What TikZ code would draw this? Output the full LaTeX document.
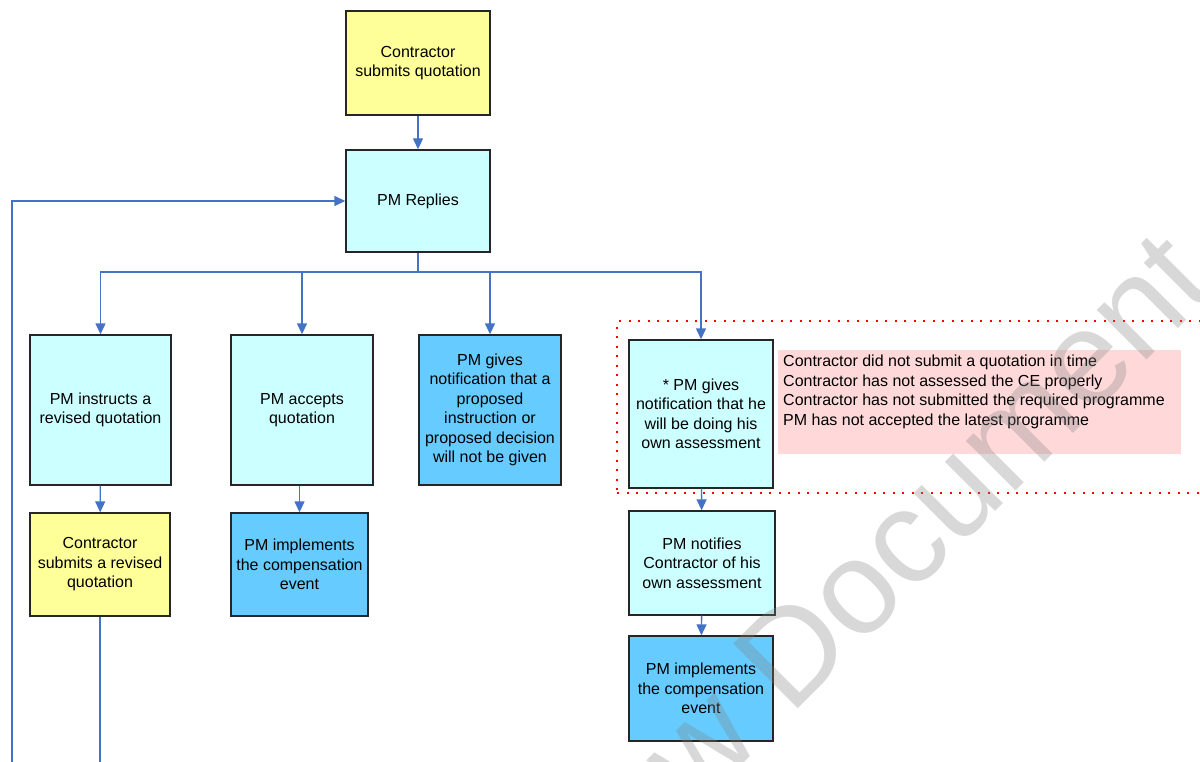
\documentclass[tikz,border=0pt]{standalone}
\usepackage{fontspec}
\setmainfont{Liberation Sans}
\usetikzlibrary{arrows.meta}
\definecolor{cYel}{HTML}{FFFF99}
\definecolor{cCyan}{HTML}{CCFFFF}
\definecolor{cBlue}{HTML}{66CCFF}
\definecolor{cPink}{HTML}{FFD9D9}
\definecolor{cConn}{HTML}{4472C4}
\definecolor{cEdge}{HTML}{262626}
\tikzset{
  bx/.style={draw=cEdge, line width=1.4pt, align=center, inner sep=2pt,
    font=\fontsize{16}{19.5}\selectfont},
  ln/.style={draw=cConn, line width=1.4pt},
  arr/.style={ln, -{Triangle[length=11pt,width=10pt]}},
}
\begin{document}
\begin{tikzpicture}[x=1pt,y=-1pt]
\useasboundingbox (0,0) rectangle (1200,762);
\clip (0,0) rectangle (1200,762);
\fill[white] (0,0) rectangle (1200,762);

% red dotted group
\node[draw=red, line width=2.2pt, dash pattern=on 2pt off 7.5pt,
      minimum width=600pt, minimum height=172pt, inner sep=0pt] (grp) at (917,407) {};

\node[bx, fill=cYel, minimum width=144pt, minimum height=104pt] (top) at (418,63) {Contractor\\submits quotation};
\node[bx, fill=cCyan, minimum width=144pt, minimum height=102pt] (replies) at (418,201) {PM Replies};

\node[bx, fill=cCyan, minimum width=141pt, minimum height=150pt] (b1) at (100.5,410) {PM instructs a\\revised quotation};
\node[bx, fill=cCyan, minimum width=142pt, minimum height=150pt] (b2) at (302,410) {PM accepts\\quotation};
\node[bx, fill=cBlue, minimum width=142pt, minimum height=150pt] (b3) at (490,410) {PM gives\\notification that a\\proposed\\instruction or\\proposed decision\\will not be given};
\node[bx, fill=cCyan, minimum width=144pt, minimum height=148pt] (b4) at (701,414) {* PM gives\\notification that he\\will be doing his\\own assessment};

\node[fill=cPink, minimum width=403pt, minimum height=104pt, inner sep=0pt] (pink) at (979.5,402) {};
\node[anchor=north west, align=left, inner sep=0pt, font=\fontsize{16}{19.5}\selectfont] (reasons) at (783,355)
  {Contractor did not submit a quotation in time\\Contractor has not assessed the CE properly\\Contractor has not submitted the required programme\\PM has not accepted the latest programme};

\node[bx, fill=cYel, minimum width=140pt, minimum height=103pt] (c1) at (100,564.5) {Contractor\\submits a revised\\quotation};
\node[bx, fill=cBlue, minimum width=137pt, minimum height=103pt] (c2) at (299.5,564.5) {PM implements\\the compensation\\event};
\node[bx, fill=cCyan, minimum width=146pt, minimum height=104pt] (d1) at (702,563) {PM notifies\\Contractor of his\\own assessment};
\node[bx, fill=cBlue, minimum width=144pt, minimum height=105pt] (d2) at (701,688.5) {PM implements\\the compensation\\event};

% connectors
\draw[arr] (top) -- (replies);
\coordinate (split) at (418,272);
\draw[ln] (replies.south) -- (split);
\draw[arr] (split) -| (b1.north);
\draw[arr] (split) -| (b2.north);
\draw[arr] (split) -| (b3.north);
\draw[arr] (split) -| (b4.north);
\draw[arr] (b1) -- (c1);
\draw[arr] (c2.north |- b2.south) -- (c2.north);
\draw[arr] (b4) -- (d1);
\draw[arr] (d1) -- (d2);
\coordinate (c1end) at (100,775);
\draw[ln] (c1.south) -- (c1end);
\coordinate (loopstart) at (12,775);
\draw[arr] (loopstart) |- (replies.west);

% watermark
\node[font=\fontsize{133}{133}\selectfont, text=black!50, opacity=0.3, rotate=45, inner sep=0pt] (wm) at (791,649) {Preview Document};
\end{tikzpicture}
\end{document}
